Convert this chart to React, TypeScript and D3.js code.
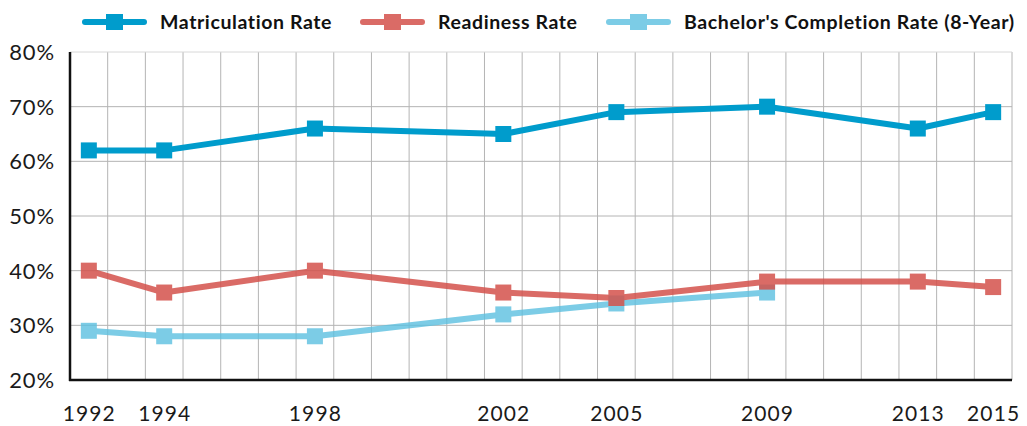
import React, { useEffect, useRef } from "react";
import * as d3 from "d3";

// year labels and their slot on the original category axis (one slot = one year step)
const yearLabels = ["1992", "1994", "1998", "2002", "2005", "2009", "2013", "2015"];
const yearSlots = [0, 2, 6, 11, 14, 18, 22, 24];

const matriculation = [62, 62, 66, 65, 69, 70, 66, 69];
const readiness = [40, 36, 40, 36, 35, 38, 38, 37];
const bachelors = [29, 28, 28, 32, 34, 36]; // ends at 2009

const yTicks = [20, 30, 40, 50, 60, 70, 80];

const seriesNames = ["Matriculation Rate", "Readiness Rate", "Bachelor's Completion Rate (8-Year)"];
const seriesColors = ["#009ccc", "#d4524c", "#5cc0e0"];
const seriesOpacity = [1, 0.85, 0.8];

function MakeSvg(ref: React.MutableRefObject<SVGSVGElement | null>) {
  const W = 1027;
  const H = 426;
  const left = 70;
  const right = 1012;
  const top = 52;
  const bottom = 380;

  const svg = d3.select(ref.current);
  svg.selectAll("*").remove();

  const x = d3.scaleLinear().domain([-0.5, 24.5]).range([left, right]);
  const y = d3.scaleLinear().domain([20, 80]).range([bottom, top]);

  // grid
  const grid = svg.append("g");
  grid
    .selectAll("line.v")
    .data(d3.range(0, 26))
    .enter()
    .append("line")
    .attr("x1", (d) => x(d - 0.5))
    .attr("x2", (d) => x(d - 0.5))
    .attr("y1", top)
    .attr("y2", bottom)
    .style("stroke", "#b4b4b4")
    .style("stroke-width", 1);
  grid
    .selectAll("line.h")
    .data(yTicks)
    .enter()
    .append("line")
    .attr("x1", left)
    .attr("x2", right)
    .attr("y1", (d) => y(d))
    .attr("y2", (d) => y(d))
    .style("stroke", (d) => (d === 80 ? "#d8d8d8" : "#b4b4b4"))
    .style("stroke-width", 1);

  // axes lines
  svg
    .append("line")
    .attr("x1", left)
    .attr("x2", left)
    .attr("y1", top)
    .attr("y2", bottom + 1)
    .style("stroke", "#111")
    .style("stroke-width", 2.5);
  svg
    .append("line")
    .attr("x1", left - 1)
    .attr("x2", right)
    .attr("y1", bottom)
    .attr("y2", bottom)
    .style("stroke", "#111")
    .style("stroke-width", 2.5);

  // tick labels
  svg
    .append("g")
    .selectAll("text")
    .data(yTicks)
    .enter()
    .append("text")
    .attr("x", 55)
    .attr("y", (d) => y(d))
    .attr("dy", "0.36em")
    .attr("text-anchor", "end")
    .style("font-family", "Lato")
    .style("font-size", "22px")
    .style("letter-spacing", "0.9px")
    .style("fill", "#1a1a1a")
    .text((d) => `${d}%`);

  svg
    .append("g")
    .selectAll("text")
    .data(yearLabels)
    .enter()
    .append("text")
    .attr("x", (d, i) => x(yearSlots[i]) + 0.5)
    .attr("y", 421)
    .attr("text-anchor", "middle")
    .style("font-family", "Lato")
    .style("font-size", "21px")
    .style("letter-spacing", "1.1px")
    .style("fill", "#1a1a1a")
    .text((d) => d);

  // series
  const allSeries = [matriculation, readiness, bachelors];
  const line = d3
    .line<number>()
    .x((d, i) => x(yearSlots[i]))
    .y((d) => y(d));

  const drawOrder = [2, 1, 0];
  drawOrder.forEach((s) => {
    const g = svg.append("g").style("opacity", seriesOpacity[s]);
    g.append("path")
      .datum(allSeries[s])
      .attr("d", line)
      .style("fill", "none")
      .style("stroke", seriesColors[s])
      .style("stroke-width", 6)
      .style("stroke-linecap", "round")
      .style("stroke-linejoin", "round");
    g.selectAll("rect")
      .data(allSeries[s])
      .enter()
      .append("rect")
      .attr("x", (d, i) => x(yearSlots[i]) - 8)
      .attr("y", (d) => y(d) - 8)
      .attr("width", 16)
      .attr("height", 16)
      .style("fill", seriesColors[s]);
  });

  // legend
  const legendX = [82, 360, 606];
  const legendY = 22;
  seriesNames.forEach((name, s) => {
    const g = svg.append("g");
    const m = g.append("g").style("opacity", seriesOpacity[s]);
    m.append("line")
      .attr("x1", legendX[s] + 3)
      .attr("x2", legendX[s] + 62)
      .attr("y1", legendY)
      .attr("y2", legendY)
      .style("stroke", seriesColors[s])
      .style("stroke-width", 6)
      .style("stroke-linecap", "round");
    m.append("rect")
      .attr("x", legendX[s] + 24)
      .attr("y", legendY - 8)
      .attr("width", 17)
      .attr("height", 16)
      .style("fill", seriesColors[s]);
    g.append("text")
      .attr("x", legendX[s] + 78)
      .attr("y", legendY)
      .attr("dy", "0.36em")
      .style("font-family", "Lato")
      .style("font-weight", 700)
      .style("font-size", "19.5px")
      .style("letter-spacing", "0.6px")
      .style("fill", "#111")
      .text(name);
  });

  svg.attr("width", W).attr("height", H);
}

const App = () => {
  const ref = useRef<SVGSVGElement | null>(null);
  useEffect(() => {
    MakeSvg(ref);
  }, []);

  return (
    <div style={{ position: "absolute", left: 0, top: 0, background: "#fff" }}>
      <svg ref={ref} width={1027} height={426} style={{ display: "block" }} />
    </div>
  );
};

export default App;
